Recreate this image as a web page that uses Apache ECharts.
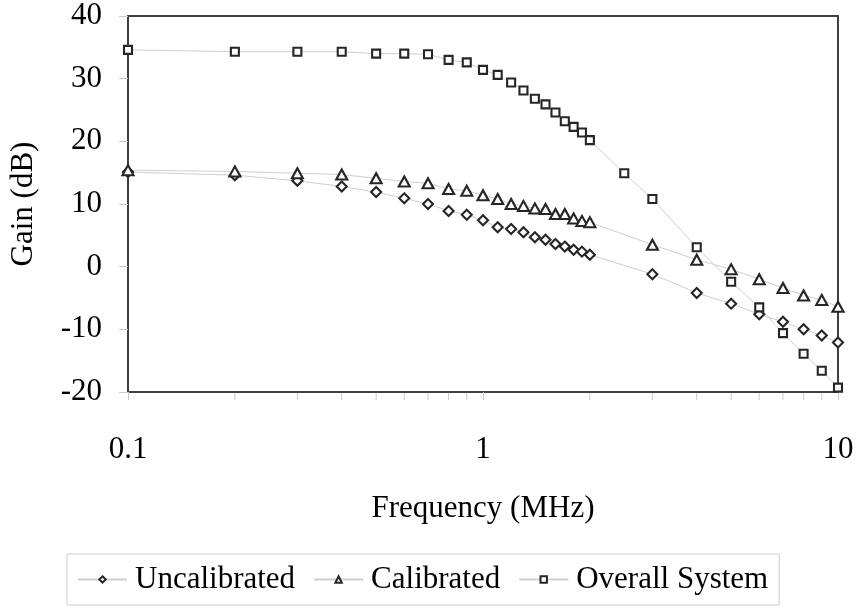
<!DOCTYPE html>
<html>
<head>
<meta charset="utf-8">
<script src="https://cdn.jsdelivr.net/npm/echarts@6/dist/echarts.min.js"></script>
<style>
  html, body { margin: 0; padding: 0; background: #fff; }
  #chart { width: 861px; height: 608px; }
</style>
</head>
<body>
<div id="chart"></div>
<script>
// Frequencies (MHz)
var freqMain = [0.1, 0.2, 0.3, 0.4, 0.5, 0.6, 0.7, 0.8, 0.9, 1.0, 1.1, 1.2, 1.3, 1.4, 1.5, 1.6, 1.7, 1.8, 1.9, 2.0, 3, 4, 5, 6, 7, 8, 9, 10];
var freqOverall = [0.1, 0.2, 0.3, 0.4, 0.5, 0.6, 0.7, 0.8, 0.9, 1.0, 1.1, 1.2, 1.3, 1.4, 1.5, 1.6, 1.7, 1.8, 1.9, 2.0, 2.5, 3, 4, 5, 6, 7, 8, 9, 10];
// Gains (dB)
var uncalibrated = [15.1, 14.6, 13.7, 12.8, 11.9, 10.9, 10.0, 8.9, 8.3, 7.4, 6.3, 6.0, 5.5, 4.7, 4.3, 3.6, 3.2, 2.7, 2.4, 1.9, -1.2, -4.2, -5.9, -7.6, -8.8, -10.0, -11.0, -12.1];
var calibrated = [15.4, 15.2, 14.9, 14.7, 14.1, 13.6, 13.3, 12.4, 12.1, 11.4, 10.8, 10.0, 9.7, 9.3, 9.2, 8.4, 8.4, 7.7, 7.3, 7.1, 3.5, 1.1, -0.4, -2.0, -3.4, -4.6, -5.3, -6.4];
var overallSystem = [34.6, 34.3, 34.3, 34.3, 34.0, 34.0, 33.9, 33.0, 32.6, 31.4, 30.6, 29.4, 28.1, 26.8, 25.9, 24.6, 23.2, 22.3, 21.4, 20.2, 14.9, 10.8, 3.1, -2.4, -6.5, -10.6, -13.9, -16.6, -19.3];
// Axis settings
var seriesNames = ['Uncalibrated', 'Calibrated', 'Overall System'];
var xMin = 0.1, xMax = 10;
var yMin = -20, yMax = 40, yStep = 10;
var minorTickValues = [0.2, 0.3, 0.4, 0.5, 0.6, 0.7, 0.8, 0.9, 2, 3, 4, 5, 6, 7, 8, 9];

function pairs(xs, ys) { return xs.map(function (x, i) { return [x, ys[i]]; }); }

var FONT = 'Liberation Serif';
var AXIS_COLOR = '#404040';
var LINE_COLOR = '#cfcfcf';
var MARK_BORDER = '#262626';

function lineSeries(name, data, symbol, size) {
  return {
    name: name,
    type: 'line',
    data: data,
    symbol: symbol,
    symbolSize: size,
    showSymbol: true,
    clip: false,
    lineStyle: { color: LINE_COLOR, width: 1 },
    itemStyle: { color: '#ffffff', borderColor: MARK_BORDER, borderWidth: 2.1 },
    emphasis: { disabled: true },
    animation: false,
    z: 3
  };
}

var chart = echarts.init(document.getElementById('chart'), null, { renderer: 'canvas' });
chart.setOption({
  animation: false,
  backgroundColor: '#ffffff',
  textStyle: { fontFamily: FONT, color: '#000' },
  grid: {
    left: 126.5, right: 23, top: 16, bottom: 216,
    show: true, borderColor: AXIS_COLOR, borderWidth: 2, backgroundColor: 'transparent'
  },
  legend: {
    data: seriesNames,
    left: 67, top: 554,
    padding: [10, 11, 10, 10],
    itemGap: 18,
    itemWidth: 49, itemHeight: 8,
    borderColor: '#cccccc', borderWidth: 1,
    textStyle: { fontFamily: FONT, fontSize: 31, color: '#000', padding: [0, 0, 0, 3] }
  },
  xAxis: {
    type: 'log',
    logBase: 10,
    min: xMin, max: xMax,
    name: 'Frequency (MHz)',
    nameLocation: 'middle',
    nameGap: 101,
    nameTextStyle: { fontFamily: FONT, fontSize: 31, color: '#000' },
    axisLine: { show: true, onZero: false, lineStyle: { color: AXIS_COLOR, width: 2 } },
    axisTick: { show: true, length: 8, lineStyle: { color: '#cccccc', width: 1 } },
    axisLabel: { fontFamily: FONT, fontSize: 31, color: '#000', margin: 42 },
    splitLine: { show: false },
    minorTick: { show: false },
    minorSplitLine: { show: false }
  },
  yAxis: {
    type: 'value',
    min: yMin, max: yMax, interval: yStep,
    name: 'Gain (dB)',
    nameLocation: 'middle',
    nameGap: 89,
    nameTextStyle: { fontFamily: FONT, fontSize: 31, color: '#000' },
    axisLine: { show: true, onZero: false, lineStyle: { color: AXIS_COLOR, width: 2 } },
    axisTick: { show: true, length: 9, lineStyle: { color: '#cccccc', width: 1 } },
    axisLabel: { fontFamily: FONT, fontSize: 31, color: '#000', margin: 26 },
    splitLine: { show: false }
  },
  series: [
    lineSeries(seriesNames[0], pairs(freqMain, uncalibrated), 'diamond', 10),
    lineSeries(seriesNames[1], pairs(freqMain, calibrated), 'triangle', [11, 10]),
    lineSeries(seriesNames[2], pairs(freqOverall, overallSystem), 'rect', 8),
    {
      name: 'minorTicks',
      type: 'custom',
      silent: true,
      clip: false,
      z: 1,
      data: minorTickValues.map(function (v) { return [v, yMin]; }),
      renderItem: function (params, api) {
        var p = api.coord([api.value(0), api.value(1)]);
        return {
          type: 'line',
          shape: { x1: p[0], y1: p[1] + 1, x2: p[0], y2: p[1] + 8 },
          style: { stroke: '#cccccc', lineWidth: 1 }
        };
      }
    }
  ]
});
</script>
</body>
</html>
